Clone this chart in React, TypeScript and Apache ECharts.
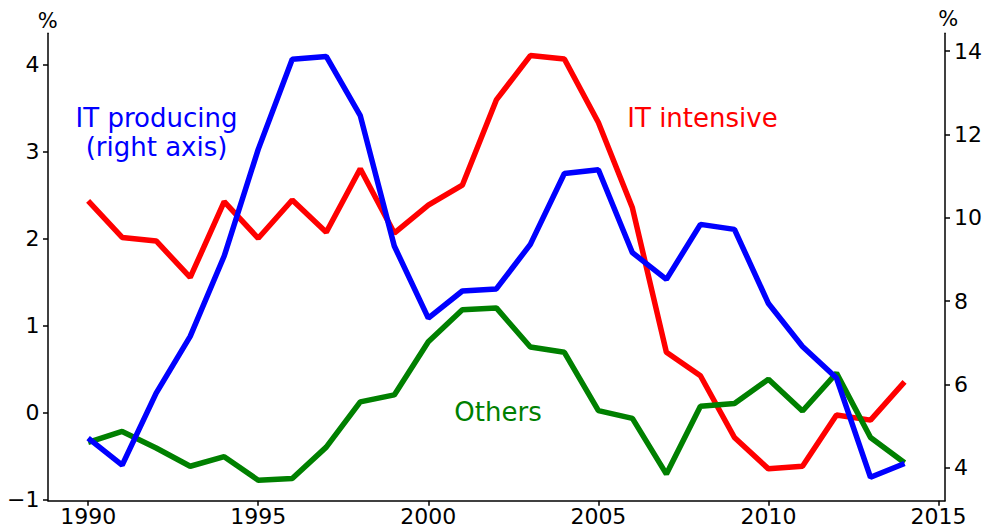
import React, { useEffect, useRef } from "react";
import * as echarts from "echarts";

const years = [1990, 1991, 1992, 1993, 1994, 1995, 1996, 1997, 1998, 1999, 2000, 2001, 2002, 2003, 2004, 2005, 2006, 2007, 2008, 2009, 2010, 2011, 2012, 2013, 2014];
const itIntensive = [2.43, 2.01, 1.97, 1.55, 2.42, 2.0, 2.44, 2.07, 2.8, 2.06, 2.38, 2.61, 3.59, 4.1, 4.06, 3.33, 2.35, 0.69, 0.42, -0.29, -0.65, -0.62, -0.03, -0.09, 0.35];
const others = [-0.345, -0.22, -0.41, -0.62, -0.51, -0.78, -0.76, -0.4, 0.12, 0.2, 0.81, 1.18, 1.2, 0.75, 0.69, 0.02, -0.07, -0.71, 0.07, 0.1, 0.38, 0.015, 0.45, -0.29, -0.58];
const itProducing = [4.71, 4.06, 5.79, 7.15, 9.08, 11.64, 13.8, 13.87, 12.45, 9.32, 7.59, 8.24, 8.29, 9.36, 11.06, 11.15, 9.16, 8.52, 9.84, 9.72, 7.94, 6.91, 6.15, 3.77, 4.1];

const xTicks = [1990, 1995, 2000, 2005, 2010, 2015];
const leftTicks = [-1, 0, 1, 2, 3, 4];
const rightTicks = [4, 6, 8, 10, 12, 14];

const FONT = "DejaVu Sans";
const fmt = (v: number) => (v < 0 ? "\u2212" + Math.abs(v) : String(v));

export default function App() {
  const ref = useRef<HTMLDivElement>(null);
  useEffect(() => {
    if (!ref.current) return;
    const chart = echarts.init(ref.current, null, { renderer: "svg" });
    const axisLine = { show: true, onZero: false, lineStyle: { color: "#000", width: 1.5 } };
    const tick = { show: true, inside: false, length: 5, lineStyle: { color: "#000", width: 1.5 } };
    const labelStyle = { color: "#000", fontFamily: FONT, fontSize: 22 };
    chart.setOption({
      animation: false,
      backgroundColor: "#fff",
      grid: { left: 48, right: 37.5, top: 33.3, bottom: 27.3, containLabel: false },
      xAxis: {
        type: "value",
        min: 1988.82,
        max: 2015.19,
        axisLine,
        splitLine: { show: false },
        axisTick: { ...tick, customValues: xTicks },
        axisLabel: { ...labelStyle, margin: 5, customValues: xTicks, formatter: (v: number) => String(v) },
      },
      yAxis: [
        {
          type: "value",
          position: "left",
          min: -1.016,
          max: 4.356,
          axisLine,
          splitLine: { show: false },
          axisTick: { ...tick, customValues: leftTicks },
          axisLabel: { ...labelStyle, margin: 8.5, customValues: leftTicks, formatter: fmt },
        },
        {
          type: "value",
          position: "right",
          min: 3.208,
          max: 14.425,
          axisLine,
          splitLine: { show: false },
          axisTick: { ...tick, customValues: rightTicks },
          axisLabel: { ...labelStyle, margin: 9, customValues: rightTicks, formatter: fmt },
        },
      ],
      series: [
        {
          name: "IT intensive",
          type: "line",
          yAxisIndex: 0,
          data: years.map((y, i) => [y, itIntensive[i]]),
          showSymbol: false,
          lineStyle: { color: "#ff0000", width: 5.5 },
          itemStyle: { color: "#ff0000" },
          z: 2,
        },
        {
          name: "Others",
          type: "line",
          yAxisIndex: 0,
          data: years.map((y, i) => [y, others[i]]),
          showSymbol: false,
          lineStyle: { color: "#008000", width: 5.5 },
          itemStyle: { color: "#008000" },
          z: 3,
        },
        {
          name: "IT producing",
          type: "line",
          yAxisIndex: 1,
          data: years.map((y, i) => [y, itProducing[i]]),
          showSymbol: false,
          lineStyle: { color: "#0000ff", width: 5.5 },
          itemStyle: { color: "#0000ff" },
          z: 4,
        },
      ],
      graphic: [
        { type: "text", x: 47.8, y: 21, style: { text: "%", fill: "#000", font: `21px '${FONT}'`, align: "center", verticalAlign: "middle" } },
        { type: "text", x: 948.3, y: 19, style: { text: "%", fill: "#000", font: `21px '${FONT}'`, align: "center", verticalAlign: "middle" } },
        { type: "text", x: 156.5, y: 132, style: { text: "IT producing\n(right axis)", fill: "#0000ff", font: `26px '${FONT}'`, lineHeight: 29, align: "center", verticalAlign: "middle" } },
        { type: "text", x: 702.5, y: 118, style: { text: "IT intensive", fill: "#ff0000", font: `26px '${FONT}'`, align: "center", verticalAlign: "middle" } },
        { type: "text", x: 498, y: 412, style: { text: "Others", fill: "#008000", font: `26px '${FONT}'`, align: "center", verticalAlign: "middle" } },
      ],
    });
    return () => chart.dispose();
  }, []);
  return <div ref={ref} style={{ position: "fixed", left: 0, top: 0, width: 985, height: 528, background: "#fff" }} />;
}
